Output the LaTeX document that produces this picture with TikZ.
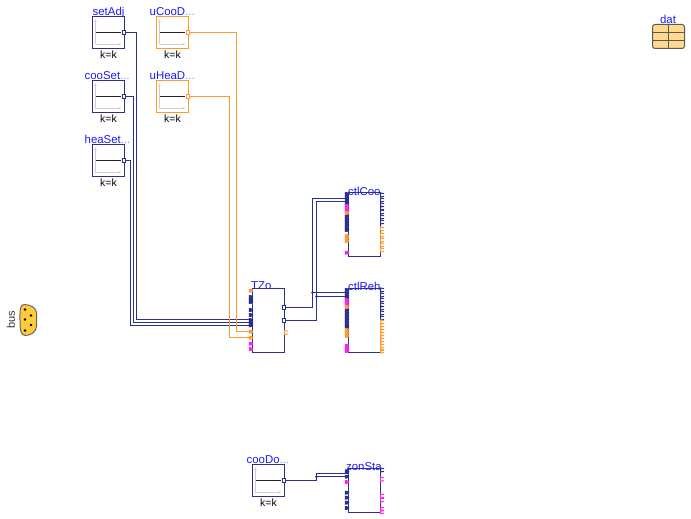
\documentclass[tikz,border=0pt]{standalone}
\usepackage{fontspec}
\setmainfont{Liberation Sans}
\definecolor{navy}{HTML}{2B2F90}
\definecolor{orng}{HTML}{FF9A2E}
\definecolor{mgnt}{HTML}{FF22EE}
\definecolor{lbl}{HTML}{1A1AFF}
\definecolor{faint}{HTML}{8C8CFF}
\definecolor{axisg}{HTML}{CFCFCF}
\definecolor{datfill}{HTML}{FFD98F}
\definecolor{busfill}{HTML}{FFCB3A}
\newcommand{\inp}[3]{\fill[#3] (#1-3.6,#2-2) -- (#1-0.4,#2-1.6) -- (#1+0.8,#2) -- (#1-0.4,#2+1.6) -- (#1-3.6,#2+2) -- cycle;}
\newcommand{\outp}[3]{\draw[#3,fill=white,line width=1pt] (#1-2,#2-2) rectangle (#1+1,#2+2);}
\newcommand{\outq}[3]{\draw[#3,line width=1pt] (#1+3.5,#2-1.4) -- (#1,#2-2) -- (#1,#2+2) -- (#1+3.5,#2+1.4);}
\newcommand{\constbox}[5]{% name, x, y, colour, label
  \node[lblnode] (#1Lbl) at (#2,#3) {#5};
  \node[blockbox,draw=#4,minimum width=32pt,minimum height=32pt,anchor=north west] (#1) at (#2,#3) {};
  \draw[axisg,line width=1pt,-{Latex[length=3pt,width=3pt]}] (#2+3,#3+28) -- (#2+3,#3+2.5);
  \draw[axisg,line width=1pt,-{Latex[length=3pt,width=3pt]}] (#2+3,#3+28) -- (#2+29,#3+28);
  \draw[black!85,line width=1pt] (#2+3,#3+16) -- (#2+28,#3+16);
  \node[kk] (#1K) at (#2+16,#3+38) {k=k};
  \coordinate (#1Out) at (#2+32,#3+16);
}
\usetikzlibrary{arrows.meta}
\tikzset{
  lblnode/.style={anchor=south west,inner sep=0pt,text=lbl,font=\fontsize{11.4}{11.4}\selectfont,text height=8pt,text depth=2pt,yshift=-1pt},
  kk/.style={inner sep=0pt,font=\fontsize{10.5}{11}\selectfont,text=black},
  blockbox/.style={fill=white,line width=1pt,inner sep=0pt,outer sep=0pt},
  wnavy/.style={navy,line width=1pt},
  worng/.style={orng,line width=1pt},
  jdot/.style={circle,fill=navy,inner sep=0pt,minimum size=3pt}
}
\begin{document}
\begin{tikzpicture}[x=1pt,y=-1pt]
\useasboundingbox[fill=white] (0,0) rectangle (691,519);
% constant blocks
\constbox{setAdj}{92.5}{16.5}{navy}{setAdj}
\constbox{uCooD}{156.5}{16.5}{orng}{\kern-7pt uCooD\textcolor{faint}{...}}
\constbox{cooSet}{92.5}{80.5}{navy}{\kern-8pt cooSet\textcolor{faint}{...}}
\constbox{uHeaD}{156.5}{80.5}{orng}{\kern-7pt uHeaD\textcolor{faint}{...}}
\constbox{heaSet}{92.5}{144.5}{navy}{\kern-8pt heaSet\textcolor{faint}{...}}
\constbox{cooDo}{252.5}{464.5}{navy}{\kern-6pt cooDo\textcolor{faint}{...}}
% blocks with ports
\node[lblnode] (TZoLbl) at (251,290.5) {TZo\textcolor{faint}{...}};
\node[lblnode] (ctlCooLbl) at (348,196.5) {ctlCoo};
\node[lblnode] (ctlRehLbl) at (348,291.5) {ctlReh};
\node[lblnode] (zonStaLbl) at (346,471.5) {zonSta};
\node[blockbox,draw=navy,fill=none,minimum width=32pt,minimum height=64pt,anchor=north west] (TZo) at (252.5,288.5) {};
\node[blockbox,draw=navy,fill=none,minimum width=32pt,minimum height=64pt,anchor=north west] (ctlCoo) at (348.5,192.5) {};
\node[blockbox,draw=navy,fill=none,minimum width=32pt,minimum height=64pt,anchor=north west] (ctlReh) at (348.5,288.5) {};
\node[blockbox,draw=navy,fill=none,minimum width=32pt,minimum height=44pt,anchor=north west] (zonSta) at (348.5,468.5) {};
% port coordinates
\coordinate (TZoA) at (252.5,319.5);
\coordinate (TZoB) at (252.5,322.5);
\coordinate (TZoC) at (252.5,325.5);
\coordinate (TZoD) at (252.5,331.5);
\coordinate (TZoE) at (252.5,337.5);
\coordinate (TZoO1) at (284.5,307.5);
\coordinate (TZoO2) at (284.5,320.5);
\coordinate (cooA) at (348.5,198.5);
\coordinate (cooB) at (348.5,201.5);
\coordinate (rehA) at (348.5,292.5);
\coordinate (rehB) at (348.5,296.5);
\coordinate (zonA) at (348.5,473.5);
\coordinate (zonB) at (348.5,476.5);
\coordinate (busA) at (312.5,292.5);
\coordinate (busB) at (316.5,296.5);
\coordinate (zonJ) at (316.5,476.5);
% connectors
\draw[wnavy] (setAdjOut) -- (136.5,32.5) -- (136.5,319.5) -- (TZoA);
\draw[wnavy] (cooSetOut) -- (133.5,96.5) -- (133.5,322.5) -- (TZoB);
\draw[wnavy] (heaSetOut) -- (130.5,160.5) -- (130.5,325.5) -- (TZoC);
\draw[worng] (uCooDOut) -- (236.5,32.5) -- (236.5,331.5) -- (TZoD);
\draw[worng] (uHeaDOut) -- (229.5,96.5) -- (229.5,337.5) -- (TZoE);
\draw[wnavy] (TZoO1) -- (312.5,307.5) -- (312.5,198.5) -- (cooA);
\draw[wnavy] (TZoO2) -- (316.5,320.5) -- (316.5,201.5) -- (cooB);
\draw[wnavy] (busA) -- (rehA);
\draw[wnavy] (busB) -- (rehB);
\draw[wnavy] (cooDoOut) -- (316.5,480.5) -- (316.5,473.5) -- (zonA);
\draw[wnavy] (zonJ) -- (zonB);
\node[jdot] (dotA) at (busA) {};
\node[jdot] (dotB) at (busB) {};
\node[jdot] (dotC) at (zonJ) {};
% output ports of constant blocks
\outp{124.5}{32.5}{navy}\outp{188.5}{32.5}{orng}\outp{124.5}{96.5}{navy}\outp{188.5}{96.5}{orng}\outp{124.5}{160.5}{navy}\outp{284.5}{480.5}{navy}
% TZo ports
\foreach \y in {297,299.5,302,310,315,320,322.7,325.3} {\inp{252.5}{\y}{navy}}
\foreach \y in {290.7,331.7,337.7} {\inp{252.5}{\y}{orng}}
\foreach \y in {343.7,349} {\inp{252.5}{\y}{mgnt}}
\outp{284.5}{307.5}{navy}\outp{284.5}{320.5}{navy}\outq{284.5}{332.5}{orng}
% ctlCoo ports
\foreach \y in {194,197,200,203,216,219,222,225,228,230} {\inp{348.5}{\y}{navy}}
\foreach \y in {206,209,211,252.7} {\inp{348.5}{\y}{mgnt}}
\foreach \y in {213,236,238,241} {\inp{348.5}{\y}{orng}}
\foreach \y in {195,200,205,208,212,217,222} {\outq{380.5}{\y}{navy}}
\foreach \y in {229,235,240,245,250} {\outq{380.5}{\y}{orng}}
% ctlReh ports
\foreach \y in {290,293,296,298,310,313,316,319,322,325,327} {\inp{348.5}{\y}{navy}}
\foreach \y in {300,303,305,346,349,351} {\inp{348.5}{\y}{mgnt}}
\foreach \y in {307,330,333,336} {\inp{348.5}{\y}{orng}}
\foreach \y in {290,295,300,305,308,313,318} {\outq{380.5}{\y}{navy}}
\foreach \y in {322,325,328,331,334,337,340,343,346,349,351} {\outq{380.5}{\y}{orng}}
% zonSta ports
\foreach \y in {471.3,476.7,492.7,497.7,502.7,508} {\inp{348.5}{\y}{navy}}
\inp{348.5}{482}{mgnt}
\outq{380.5}{470}{navy}
\foreach \y in {479.3,496,500,509.3,511.7} {\outq{380.5}{\y}{mgnt}}
% dat
\node[lblnode,anchor=south] (datLbl) at (668,24.5) {dat};
\node[draw=black!65,fill=datfill,line width=1pt,rounded corners=2.5pt,minimum width=32pt,minimum height=24pt,inner sep=0pt,outer sep=0pt,anchor=north west] (dat) at (652.5,24.5) {};
\draw[black!65,line width=1pt] (668.5,24.5) -- (668.5,48.5);
\draw[black!65,line width=1pt] (652.5,32.5) -- (684.5,32.5);
\draw[black!65,line width=1pt] (652.5,40.5) -- (684.5,40.5);
% bus
\node[inner sep=0pt,rotate=90,font=\fontsize{11}{11}\selectfont,text=black!80] (busLbl) at (11,319.5) {bus};
\draw[black!60,fill=busfill,line width=1pt] (24,304.5) .. controls (19.5,304.5) and (20,312) .. (20,320) .. controls (20,328) and (20.5,335.5) .. (25,335.5) .. controls (31,335.5) and (36.5,332) .. (36.5,326) -- (36.5,313) .. controls (36.5,308) and (31,304.5) .. (24,304.5) -- cycle;
\foreach \p in {(25,309.5),(31,315.5),(25,319.5),(31,325),(25,330.5)} {\fill[black] \p circle (1.4);}
\end{tikzpicture}
\end{document}
